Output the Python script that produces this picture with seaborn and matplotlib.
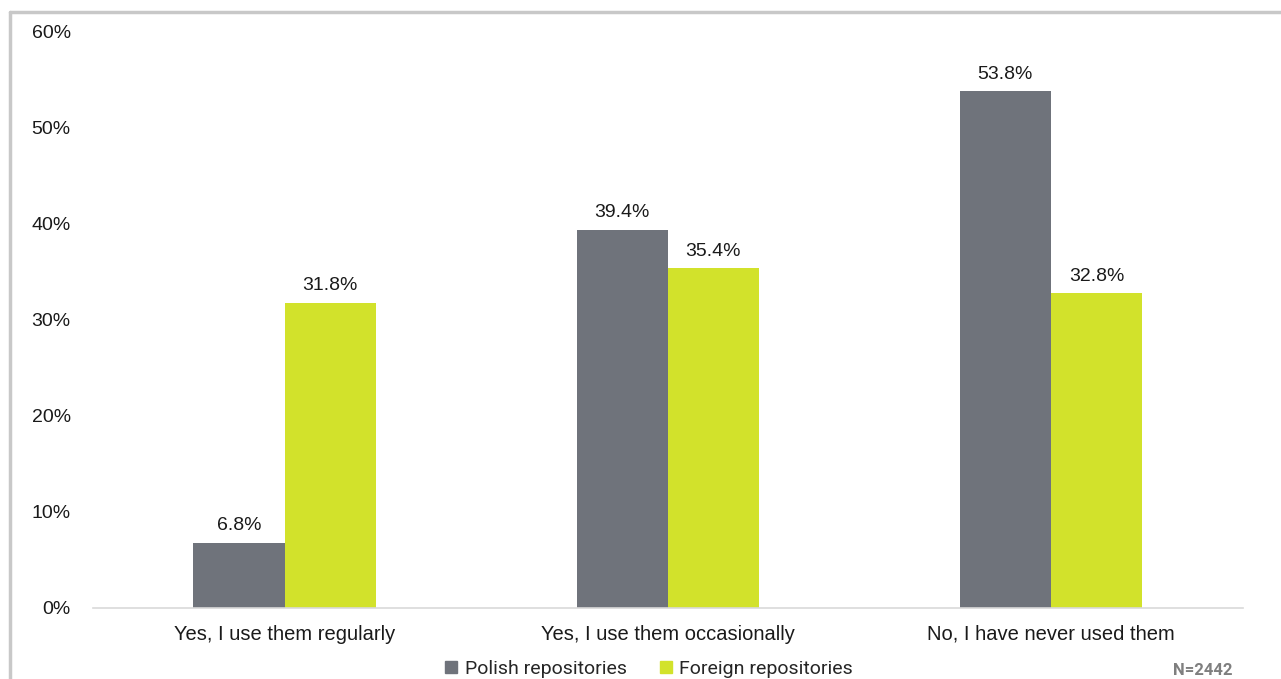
import matplotlib
matplotlib.use('Agg')
import matplotlib.pyplot as plt
from matplotlib.lines import Line2D
import pandas as pd
import seaborn as sns

# --- Data ---
CATEGORIES = ['Yes, I use them regularly', 'Yes, I use them occasionally', 'No, I have never used them']
SERIES = ['Polish repositories', 'Foreign repositories']
POLISH = [6.8, 39.4, 53.8]
FOREIGN = [31.8, 35.4, 32.8]
COLORS = ['#6f737b', '#d2e22b']
Y_TICKS = [0, 10, 20, 30, 40, 50, 60]

df = pd.DataFrame({
    'category': CATEGORIES * 2,
    'series': [SERIES[0]] * 3 + [SERIES[1]] * 3,
    'value': POLISH + FOREIGN,
})

sns.set_style('white')
plt.rcParams['font.family'] = ['Liberation Sans', 'DejaVu Sans']

fig = plt.figure(figsize=(12.81, 6.79), dpi=100)
ax = fig.add_axes([0.0726, 0.1046, 0.8974, 0.8484])

sns.barplot(data=df, x='category', y='value', hue='series', palette=COLORS,
            order=CATEGORIES, hue_order=SERIES, width=0.476, saturation=1,
            linewidth=0, ax=ax, legend=False)

for cont in ax.containers:
    ax.bar_label(cont, labels=[f'{v:.1f}%' for v in cont.datavalues],
                 padding=6, fontsize=14, color='#1a1a1a')

ax.set_xlim(-0.5, 2.5)
ax.set_ylim(0, 60)
ax.set_yticks(Y_TICKS)
ax.set_yticklabels([f'{t}%' for t in Y_TICKS])
ax.set_xlabel('')
ax.set_ylabel('')
ax.tick_params(axis='y', length=0, labelsize=14, colors='#1a1a1a', pad=16)
ax.tick_params(axis='x', length=0, labelsize=14.5, colors='#1a1a1a', pad=12)
for s in ['top', 'right', 'left']:
    ax.spines[s].set_visible(False)
ax.spines['bottom'].set_color('#d9d9d9')
ax.spines['bottom'].set_linewidth(1.2)

# legend
handles = [Line2D([0], [0], marker='s', linestyle='none', markersize=8,
                  markerfacecolor=c, markeredgecolor=c) for c in COLORS]
fig.legend(handles, SERIES, loc='center', bbox_to_anchor=(0.506, 0.0147),
           ncol=2, frameon=False, handlelength=0.8, handletextpad=0.3,
           columnspacing=1.6, prop={'family': 'Roboto', 'size': 14})

fig.text(0.962, 0.013, 'N=2442', ha='right', va='center', fontsize=12,
         fontweight='bold', color='#7f7f7f', family='Roboto')

# outer frame (top and left)
fig.add_artist(Line2D([10 / 1281, 1], [1 - 12 / 679, 1 - 12 / 679],
                      color='#c8c8c8', linewidth=2.5, transform=fig.transFigure))
fig.add_artist(Line2D([10 / 1281, 10 / 1281], [0, 1 - 12 / 679],
                      color='#c8c8c8', linewidth=2.5, transform=fig.transFigure))

fig.savefig('out.png', dpi=100)
